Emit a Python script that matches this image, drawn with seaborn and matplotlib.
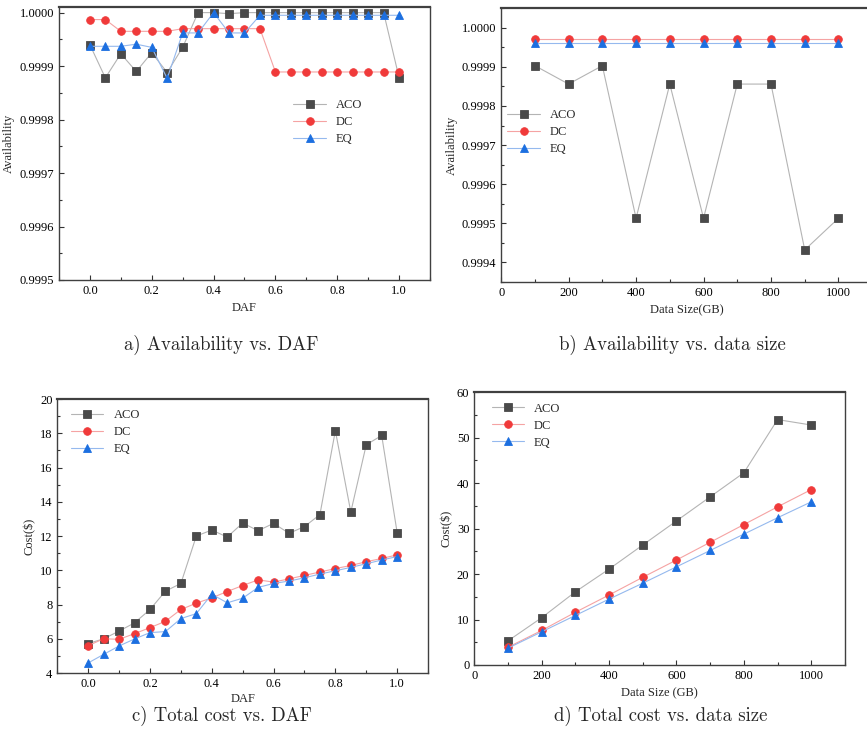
import numpy as np
import pandas as pd
import matplotlib
matplotlib.use("Agg")
import matplotlib.pyplot as plt
from matplotlib.ticker import MultipleLocator, FormatStrFormatter
import seaborn as sns

# ---- data ----
daf = [0.0, 0.05, 0.1, 0.15, 0.2, 0.25, 0.3, 0.35, 0.4, 0.45, 0.5,
       0.55, 0.6, 0.65, 0.7, 0.75, 0.8, 0.85, 0.9, 0.95, 1.0]
size_gb = [100, 200, 300, 400, 500, 600, 700, 800, 900, 1000]

avail_daf_aco = [0.99994, 0.999878, 0.999923, 0.99989, 0.999925, 0.999888, 0.999935,
                 1.0, 1.0, 0.999998, 1.0, 1.0, 1.0, 1.0, 1.0, 1.0, 1.0, 1.0,
                 1.0, 1.0, 0.999878]
avail_daf_dc = [0.999987, 0.999987, 0.999965, 0.999965, 0.999965, 0.999965, 0.99997,
                0.99997, 0.99997, 0.99997, 0.99997, 0.99997, 0.999889, 0.999889,
                0.999889, 0.999889, 0.999889, 0.999889, 0.999889, 0.999889, 0.999889]
avail_daf_eq = [0.999937, 0.999937, 0.999937, 0.999941, 0.999935, 0.999877, 0.999962,
                0.999962, 1.0, 0.999962, 0.999962, 0.999995, 0.999995, 0.999995,
                0.999995, 0.999995, 0.999995, 0.999995, 0.999995, 0.999995, 0.999995]

avail_size_aco = [0.999903, 0.999856, 0.999903, 0.999513, 0.999856, 0.999513,
                  0.999856, 0.999856, 0.999432, 0.999513]
avail_size_dc = [0.99997] * 10
avail_size_eq = [0.999962] * 10

cost_daf_aco = [5.72, 6.0, 6.45, 6.93, 7.71, 8.78, 9.23, 12.0, 12.35, 11.94, 12.76,
                12.31, 12.74, 12.16, 12.55, 13.25, 18.15, 13.4, 17.33, 17.87, 12.2]
cost_daf_dc = [5.6, 6.0, 5.97, 6.3, 6.65, 7.02, 7.71, 8.08, 8.39, 8.76, 9.11,
               9.44, 9.31, 9.5, 9.7, 9.9, 10.1, 10.28, 10.5, 10.69, 10.9]
cost_daf_eq = [4.59, 5.09, 5.58, 5.99, 6.36, 6.42, 7.18, 7.47, 8.6, 8.1, 8.37,
               9.0, 9.23, 9.37, 9.56, 9.78, 9.97, 10.17, 10.38, 10.6, 10.8]

cost_size_aco = [5.3, 10.4, 16.1, 21.1, 26.4, 31.7, 37.0, 42.3, 54.0, 52.8]
cost_size_dc = [3.9, 7.6, 11.6, 15.4, 19.3, 23.1, 27.0, 30.9, 34.8, 38.6]
cost_size_eq = [3.7, 7.3, 10.9, 14.5, 18.0, 21.6, 25.2, 28.8, 32.4, 35.9]

names = ["ACO", "DC", "EQ"]

sns.set_style("ticks", {"xtick.direction": "in", "ytick.direction": "in"})
plt.rcParams["font.family"] = ["Liberation Serif", "DejaVu Serif"]

styles = {
    "ACO": dict(marker="s", line="#b4b4b4", face="#4a4a4a"),
    "DC": dict(marker="o", line="#f5a3a3", face="#f03a3a"),
    "EQ": dict(marker="^", line="#95b9ee", face="#1c6fe0"),
}


def draw(ax, x, series, xlabel, ylabel, xpad=4):
    for name, y in zip(names, series):
        st = styles[name]
        df = pd.DataFrame({"x": x, "y": y})
        sns.lineplot(data=df, x="x", y="y", ax=ax, color=st["line"], linewidth=0.8,
                     marker=st["marker"], markersize=5.5, markerfacecolor=st["face"],
                     markeredgecolor=st["face"], markeredgewidth=0.6, label=name,
                     errorbar=None, sort=False)
    ax.set_xlabel(xlabel, fontsize=9, labelpad=xpad)
    ax.set_ylabel(ylabel, fontsize=9, labelpad=3)
    ax.tick_params(which="both", labelsize=9, colors="#333333", labelcolor="black")
    ax.tick_params(which="major", length=3.5, width=0.8)
    ax.tick_params(which="minor", length=2, width=0.8)
    for sp in ax.spines.values():
        sp.set_visible(True)
        sp.set_color("#404040")
        sp.set_linewidth(1.0)
    ax.spines["top"].set_linewidth(1.6)


def legend(ax, anchor):
    ax.legend(loc="upper left", bbox_to_anchor=anchor, frameon=False, fontsize=9,
              handlelength=2.6, labelspacing=0.4, borderpad=0)


fig = plt.figure(figsize=(8.67, 7.45), dpi=100)

# a) availability vs DAF
ax_a = fig.add_axes([0.068, 0.6242, 0.428, 0.3664])
draw(ax_a, daf, [avail_daf_aco, avail_daf_dc, avail_daf_eq], "DAF", "Availability")
ax_a.set_xlim(-0.1, 1.1)
ax_a.set_ylim(0.9995, 1.0000105)
ax_a.xaxis.set_major_locator(MultipleLocator(0.2))
ax_a.xaxis.set_minor_locator(MultipleLocator(0.1))
ax_a.yaxis.set_major_locator(MultipleLocator(0.0001))
ax_a.yaxis.set_minor_locator(MultipleLocator(0.00005))
ax_a.xaxis.set_major_formatter(FormatStrFormatter("%.1f"))
ax_a.yaxis.set_major_formatter(FormatStrFormatter("%.4f"))
legend(ax_a, (0.615, 0.685))

# b) availability vs data size
ax_b = fig.add_axes([0.578, 0.6215, 0.428, 0.3675])
draw(ax_b, size_gb, [avail_size_aco, avail_size_dc, avail_size_eq], "Data Size(GB)",
     "Availability")
ax_b.set_xlim(0, 1100)
ax_b.set_ylim(0.99935, 1.00005)
ax_b.xaxis.set_major_locator(MultipleLocator(200))
ax_b.xaxis.set_minor_locator(MultipleLocator(100))
ax_b.yaxis.set_major_locator(MultipleLocator(0.0001))
ax_b.yaxis.set_minor_locator(MultipleLocator(0.00005))
ax_b.yaxis.set_major_formatter(FormatStrFormatter("%.4f"))
legend(ax_b, (0.0, 0.655))

# c) total cost vs DAF
ax_c = fig.add_axes([0.0661, 0.0966, 0.4276, 0.3678])
draw(ax_c, daf, [cost_daf_aco, cost_daf_dc, cost_daf_eq], "DAF", "Cost($)", xpad=2)
ax_c.set_xlim(-0.1, 1.1)
ax_c.set_ylim(4, 20)
ax_c.xaxis.set_major_locator(MultipleLocator(0.2))
ax_c.xaxis.set_minor_locator(MultipleLocator(0.1))
ax_c.yaxis.set_major_locator(MultipleLocator(2))
ax_c.yaxis.set_minor_locator(MultipleLocator(1))
ax_c.xaxis.set_major_formatter(FormatStrFormatter("%.1f"))
legend(ax_c, (0.02, 0.985))

# d) total cost vs data size
ax_d = fig.add_axes([0.547, 0.1074, 0.4276, 0.366])
draw(ax_d, size_gb, [cost_size_aco, cost_size_dc, cost_size_eq], "Data Size (GB)",
     "Cost($)")
ax_d.set_xlim(0, 1100)
ax_d.set_ylim(0, 60)
ax_d.xaxis.set_major_locator(MultipleLocator(200))
ax_d.xaxis.set_minor_locator(MultipleLocator(100))
ax_d.yaxis.set_major_locator(MultipleLocator(10))
ax_d.yaxis.set_minor_locator(MultipleLocator(5))
legend(ax_d, (0.03, 0.985))

cap = dict(fontsize=13.5, family="cmr10", ha="center", va="center")
fig.text(0.255, 0.537, "a) Availability vs. DAF", **cap)
fig.text(0.776, 0.537, "b) Availability vs. data size", **cap)
fig.text(0.256, 0.039, "c) Total cost vs. DAF", **cap)
fig.text(0.762, 0.039, "d) Total cost vs. data size", **cap)

fig.savefig("out.png", dpi=100)
plt.close(fig)
